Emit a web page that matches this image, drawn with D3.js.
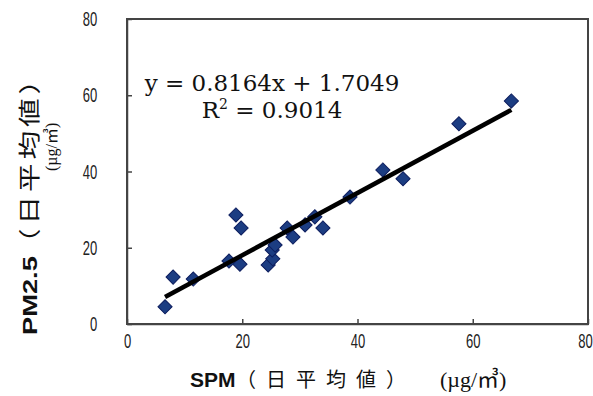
<!DOCTYPE html>
<meta charset="utf-8">
<script src="https://d3js.org/d3.v7.min.js"></script>
<style>
  body { margin: 0; background: #fff; }
</style>
<div id="my_dataviz"></div>
<script>

// data (SPM vs PM2.5, daily means)
var spm  = [6.6, 8.0, 11.5, 17.7, 18.9, 19.8, 19.6, 24.5, 25.3, 25.2, 25.7,
            27.8, 28.8, 30.9, 32.6, 34.0, 38.7, 44.4, 47.9, 57.6, 66.7];
var pm25 = [4.5, 12.3, 11.8, 16.5, 28.6, 25.2, 15.7, 15.5, 17.1, 19.4, 20.7,
            25.2, 22.8, 26.0, 28.1, 25.2, 33.3, 40.4, 38.1, 52.5, 58.5];
var xTicks = [0, 20, 40, 60, 80];
var yTicks = [0, 20, 40, 60, 80];
var slope = 0.8164, intercept = 1.7049;
var eqLine = "y = 0.8164x + 1.7049";
var r2Value = "0.9014";

var points = spm.map(function(d, i) { return {x: d, y: pm25[i]}; });

var W = 593, H = 396;
var margin = {top: 19, right: 5, bottom: 72, left: 127},
    width = W - margin.left - margin.right,
    height = H - margin.top - margin.bottom;

var root = d3.select("#my_dataviz")
  .append("svg")
    .attr("width", W)
    .attr("height", H)
    .style("background", "#fff");

var svg = root.append("g")
    .attr("transform", "translate(" + margin.left + "," + margin.top + ")");

var x = d3.scaleLinear().domain([0, 80]).range([0, width]);
var y = d3.scaleLinear().domain([0, 80]).range([height, 0]);

// tall, narrow tick digits (squeezed horizontally)
var tickFont = "'Liberation Sans', Arial, sans-serif";
var squeeze = 0.62;

// Y axis (ticks point inward)
var yAxis = svg.append("g")
  .call(d3.axisLeft(y).tickValues(yTicks).tickSize(-5).tickPadding(48).tickSizeOuter(0));
yAxis.selectAll("text")
  .style("font-family", tickFont).style("font-size", "21px").attr("fill", "#222")
  .attr("transform", "scale(" + squeeze + ",1)");

// X axis
var xAxis = svg.append("g")
  .attr("transform", "translate(0," + height + ")")
  .call(d3.axisBottom(x).tickValues(xTicks).tickSize(-5).tickPadding(9).tickSizeOuter(0));
xAxis.selectAll("text")
  .style("font-family", tickFont).style("font-size", "21px").attr("fill", "#222")
  .attr("transform", "scale(" + squeeze + ",1)")
  .attr("dx", function(d) { return d === 80 ? -5 : 0; });

root.selectAll(".domain, .tick line").attr("stroke", "#444").attr("stroke-width", 1.5);

// plot box
svg.append("rect")
  .attr("x", 0).attr("y", 0).attr("width", x(80)).attr("height", y(0))
  .attr("fill", "none").attr("stroke", "#444").attr("stroke-width", 2);

// markers: square diamonds
var diamond = d3.symbol().type(d3.symbolSquare).size(100);
svg.selectAll("mypoint")
  .data(points)
  .enter()
  .append("path")
    .attr("d", diamond)
    .attr("transform", function(d) { return "translate(" + x(d.x) + "," + y(d.y) + ") rotate(45)"; })
    .attr("fill", "#1C3D82")
    .attr("stroke", "#0D1D5E")
    .attr("stroke-width", 1);

// linear trend line
var xMin = d3.min(spm), xMax = d3.max(spm);
svg.append("line")
  .attr("x1", x(xMin)).attr("y1", y(slope * xMin + intercept))
  .attr("x2", x(xMax)).attr("y2", y(slope * xMax + intercept))
  .attr("stroke", "#000").attr("stroke-width", 4.5);

// equation label, both lines centred
var eqFont = "'DejaVu Serif', serif";
root.append("text")
  .attr("x", 272).attr("y", 91)
  .attr("text-anchor", "middle")
  .style("font-family", eqFont).style("font-size", "23px").attr("fill", "#111")
  .text(eqLine);
var r2 = root.append("text")
  .attr("x", 272).attr("y", 118)
  .attr("text-anchor", "middle")
  .style("font-family", eqFont).style("font-size", "23px").attr("fill", "#111");
r2.append("tspan").text("R");
r2.append("tspan").attr("dy", -9).style("font-size", "14px").text("2");
r2.append("tspan").attr("dy", 9).text(" = " + r2Value);

// axis titles
var boldFont = "'Liberation Sans', Arial, sans-serif";
var cjkFont = "'Noto Sans CJK JP', sans-serif";
var unitFont = "'Liberation Serif', 'Noto Sans CJK JP', serif";

var xt = root.append("g");
xt.append("text").attr("x", 190).attr("y", 387)
  .style("font-family", boldFont).style("font-weight", "bold").style("font-size", "21px")
  .attr("fill", "#111").text("SPM");
xt.append("text").attr("x", 236).attr("y", 387)
  .style("font-family", cjkFont).style("font-size", "20px").style("letter-spacing", "10px")
  .attr("fill", "#111").text("（日平均値）");
xt.append("text").attr("x", 440).attr("y", 387)
  .style("font-family", unitFont).style("font-size", "22px")
  .attr("fill", "#111").text("(µg/㎥)");

// y title: glyphs are stretched along the text direction in the original
var yt = root.append("g").attr("transform", "translate(37,335) rotate(-90) scale(1.3,1)");
yt.append("text").attr("x", 0).attr("y", 0)
  .style("font-family", boldFont).style("font-weight", "bold").style("font-size", "21px")
  .attr("fill", "#111").text("PM2.5");
yt.append("text").attr("x", 60).attr("y", 0)
  .style("font-family", cjkFont).style("font-size", "22px").style("letter-spacing", "3px")
  .attr("fill", "#111").text("（日平均値）");
root.append("g").attr("transform", "translate(57,171) rotate(-90)")
  .append("text").attr("x", 0).attr("y", 0)
  .style("font-family", unitFont).style("font-size", "16px")
  .attr("fill", "#111").text("(µg/㎥)");

</script>
